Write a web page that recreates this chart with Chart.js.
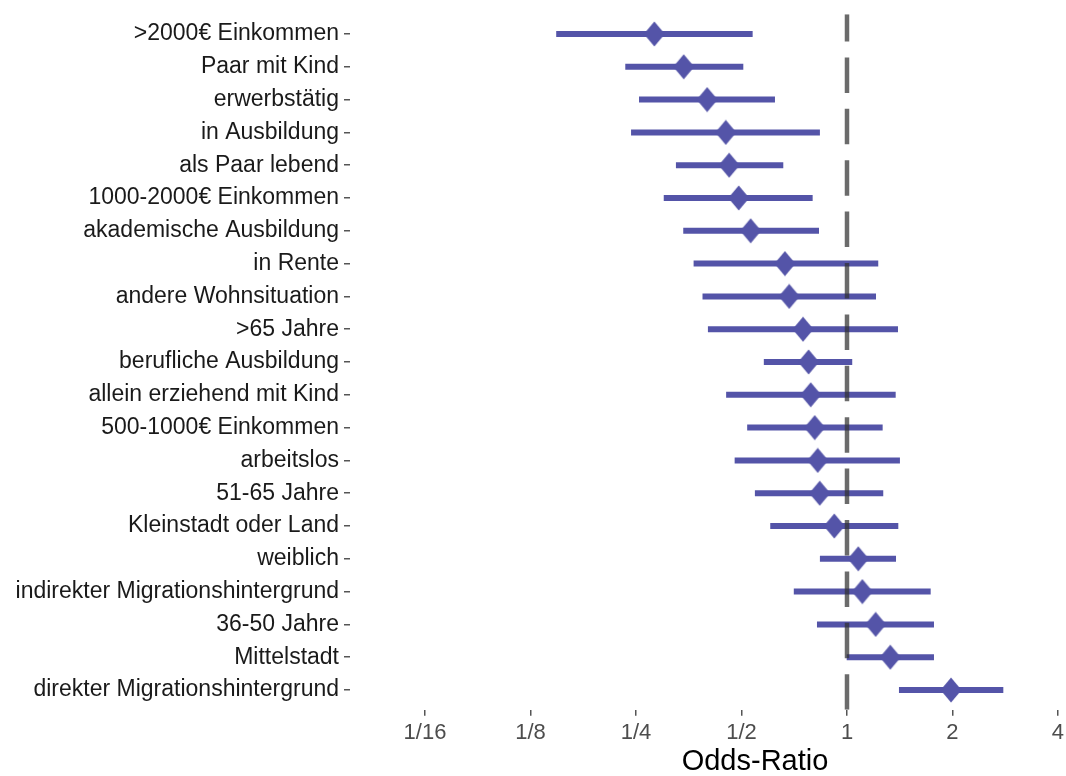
<!DOCTYPE html>
<html>
<head>
<meta charset="utf-8">
<script src="https://cdn.jsdelivr.net/npm/chart.js@4"></script>
<style>
  html, body { margin: 0; padding: 0; background: #fff; overflow: hidden; }
  #wrap { width: 1066px; height: 776px; overflow: hidden; }
</style>
</head>
<body>
<div id="wrap"><canvas id="forest" width="1172" height="776"></canvas></div>
<script>
var labels = [">2000€ Einkommen", "Paar mit Kind", "erwerbstätig", "in Ausbildung", "als Paar lebend",
  "1000-2000€ Einkommen", "akademische Ausbildung", "in Rente", "andere Wohnsituation", ">65 Jahre",
  "berufliche Ausbildung", "allein erziehend mit Kind", "500-1000€ Einkommen", "arbeitslos", "51-65 Jahre",
  "Kleinstadt oder Land", "weiblich", "indirekter Migrationshintergrund", "36-50 Jahre", "Mittelstadt",
  "direkter Migrationshintergrund"];
var oddsRatio = [0.282, 0.342, 0.399, 0.451, 0.461, 0.491, 0.531, 0.665, 0.684, 0.749, 0.777,
  0.788, 0.809, 0.825, 0.836, 0.920, 1.077, 1.106, 1.207, 1.329, 1.981];
var ciLower = [0.148, 0.233, 0.255, 0.242, 0.325, 0.300, 0.341, 0.365, 0.387, 0.401, 0.579,
  0.452, 0.519, 0.478, 0.546, 0.604, 0.837, 0.705, 0.821, 0.998, 1.407];
var ciUpper = [0.538, 0.506, 0.623, 0.837, 0.658, 0.798, 0.832, 1.228, 1.210, 1.398, 1.035,
  1.377, 1.264, 1.416, 1.269, 1.401, 1.380, 1.733, 1.771, 1.771, 2.793];
var xTickValues = [1/16, 1/8, 1/4, 1/2, 1, 2, 4];
var xTickLabels = ["1/16", "1/8", "1/4", "1/2", "1", "2", "4"];

var blue = '#5454a8';

// diamond marker, a bit taller than wide like ggplot shape 18
var diamond = document.createElement('canvas');
diamond.width = 22; diamond.height = 26;
var dc = diamond.getContext('2d');
dc.fillStyle = blue;
dc.beginPath();
dc.moveTo(11, 0.5); dc.lineTo(21.5, 13); dc.lineTo(11, 25.5); dc.lineTo(0.5, 13);
dc.closePath(); dc.fill();

var datasets = labels.map(function (lab, i) {
  return {
    type: 'line',
    data: [{x: ciLower[i], y: i}, {x: ciUpper[i], y: i}],
    borderColor: blue,
    borderWidth: 6,
    borderCapStyle: 'butt',
    pointRadius: 0,
    order: 2
  };
});
datasets.push({
  type: 'scatter',
  data: oddsRatio.map(function (v, i) { return {x: v, y: i}; }),
  pointStyle: diamond,
  pointRadius: 11,
  order: 1
});
// reference line at OR = 1, dashes start from the bottom like ggplot
datasets.push({
  type: 'line',
  data: [{x: 1, y: 20.6}, {x: 1, y: -0.6}],
  borderColor: 'rgba(50,50,50,0.72)',
  borderWidth: 4.5,
  borderDash: [35.5, 15.9],
  borderCapStyle: 'butt',
  pointRadius: 0,
  order: 0
});

new Chart(document.getElementById('forest'), {
  type: 'scatter',
  data: { datasets: datasets },
  options: {
    responsive: false,
    animation: false,
    layout: { padding: { top: 14.3, left: 0, right: 0, bottom: 0 } },
    plugins: { legend: { display: false }, tooltip: { enabled: false } },
    scales: {
      x: {
        type: 'logarithmic',
        min: Math.pow(2, -4.711),
        max: Math.pow(2, 2.967),
        afterBuildTicks: function (scale) {
          scale.ticks = xTickValues.map(function (v) { return {value: v}; });
        },
        afterFit: function (scale) { scale.height = 66.3; },
        ticks: {
          autoSkip: false,
          maxRotation: 0,
          padding: 4,
          color: '#4d4d4d',
          font: { family: 'Liberation Sans, Arial, sans-serif', size: 22 },
          callback: function (v) {
            var idx = xTickValues.findIndex(function (t) { return Math.abs(t - v) < 1e-9; });
            return idx >= 0 ? xTickLabels[idx] : '';
          }
        },
        grid: { drawOnChartArea: false, tickLength: 6, color: '#555', lineWidth: 1.5 },
        border: { display: false },
        title: {
          display: true,
          text: 'Odds-Ratio',
          color: '#000',
          padding: { top: 0, bottom: 0 },
          font: { family: 'Liberation Sans, Arial, sans-serif', size: 29, lineHeight: 0.95 }
        }
      },
      y: {
        type: 'linear',
        reverse: true,
        min: -0.6,
        max: 20.6,
        afterBuildTicks: function (scale) {
          scale.ticks = labels.map(function (l, i) { return {value: i}; });
        },
        afterFit: function (scale) { scale.width = 350; },
        ticks: {
          autoSkip: false,
          padding: 5,
          color: '#1a1a1a',
          font: { family: 'Liberation Sans, Arial, sans-serif', size: 23, lineHeight: 0.5 },
          callback: function (v) { return labels[v]; }
        },
        grid: { drawOnChartArea: false, tickLength: 6, color: '#555', lineWidth: 1.5 },
        border: { display: false }
      }
    }
  }
});
</script>
</body>
</html>
